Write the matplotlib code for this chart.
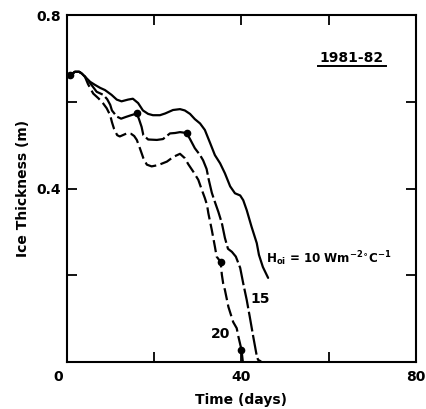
import matplotlib
matplotlib.use("Agg")
import matplotlib.pyplot as plt

plt.rcParams['font.family'] = ['DejaVu Sans']
plt.rcParams['font.weight'] = 'bold'
plt.rcParams['mathtext.fontset'] = 'custom'
plt.rcParams['mathtext.rm'] = 'DejaVu Sans:bold'
plt.rcParams['mathtext.it'] = 'DejaVu Sans:bold'
plt.rcParams['mathtext.default'] = 'rm'

# ---- data (days, ice thickness m) ----
common_t = [0.7, 1.8, 2.8, 3.4, 4.1]
common_h = [0.661, 0.669, 0.669, 0.665, 0.658]

h10_t = [5.3, 6.4, 7.6, 8.7, 10.2, 11.4, 12.5, 14.0, 15.1, 16.3, 17.4, 18.6, 19.7,
         21.3, 22.5, 24.3, 25.9, 27.0, 28.2, 29.3, 30.5, 31.6, 32.8, 33.9, 35.1,
         36.2, 37.4, 38.5, 39.7, 40.4, 41.2, 42.3, 43.5, 44.0, 44.9, 46.1]
h10_h = [0.646, 0.639, 0.632, 0.627, 0.616, 0.605, 0.601, 0.605, 0.607, 0.597,
         0.580, 0.572, 0.569, 0.569, 0.573, 0.581, 0.583, 0.580, 0.572, 0.560,
         0.550, 0.535, 0.505, 0.477, 0.458, 0.435, 0.405, 0.389, 0.384, 0.373,
         0.350, 0.312, 0.274, 0.247, 0.219, 0.194]

h15_t = [5.3, 6.8, 8.3, 9.2, 9.9, 10.3, 11.4, 12.4, 13.5, 14.7, 16.0, 16.5, 17.1,
         17.5, 18.6, 20.6, 22.0, 23.6, 24.8, 25.9, 27.4, 28.2, 29.3, 30.5, 31.2,
         32.0, 32.5, 33.2, 33.9, 34.7, 35.5, 36.2, 36.9, 37.8, 38.7, 39.7, 40.4,
         41.2, 41.9, 42.7, 43.5, 43.8, 44.5]
h15_h = [0.643, 0.623, 0.616, 0.606, 0.593, 0.580, 0.566, 0.561, 0.565, 0.569,
         0.573, 0.560, 0.542, 0.523, 0.513, 0.512, 0.514, 0.527, 0.528, 0.530,
         0.528, 0.514, 0.493, 0.477, 0.465, 0.445, 0.420, 0.390, 0.369, 0.346,
         0.320, 0.286, 0.261, 0.254, 0.243, 0.217, 0.181, 0.143, 0.104, 0.058,
         0.014, 0.005, 0.001]

h20_t = [4.8, 6.0, 7.2, 8.3, 9.1, 9.9, 10.3, 10.8, 11.5, 12.1, 13.7, 14.7, 15.4,
         16.0, 16.7, 17.5, 18.3, 19.4, 20.9, 22.9, 24.4, 25.9, 27.0, 27.8, 29.0,
         30.1, 30.9, 31.6, 32.1, 32.4, 33.2, 33.9, 34.3, 35.2, 35.5, 35.8, 36.2,
         37.0, 38.1, 38.9, 39.3, 40.0, 40.3]
h20_h = [0.641, 0.619, 0.608, 0.596, 0.585, 0.569, 0.553, 0.537, 0.523, 0.520,
         0.527, 0.526, 0.521, 0.512, 0.493, 0.470, 0.455, 0.451, 0.454, 0.462,
         0.473, 0.480, 0.470, 0.456, 0.438, 0.420, 0.397, 0.378, 0.362, 0.343,
         0.304, 0.266, 0.243, 0.231, 0.201, 0.181, 0.166, 0.127, 0.092, 0.078,
         0.058, 0.028, 0.001]

dot_t = [0.7, 16.0, 27.4, 35.2, 40.0]
dot_h = [0.661, 0.573, 0.528, 0.231, 0.028]

xticks = [0, 20, 40, 60, 80]
xticklabels = ['', '', '40', '', '80']
yticks = [0, 0.2, 0.4, 0.6, 0.8]
yticklabels = ['', '', '0.4', '', '0.8']

fig = plt.figure(figsize=(4.26, 4.09), dpi=100)
ax = fig.add_axes([0.1573, 0.1149, 0.8192, 0.8484])

lw = 1.6
ax.plot(common_t + h10_t, common_h + h10_h, color='black', lw=lw,
        solid_capstyle='round', solid_joinstyle='round')
ax.plot(common_t + h15_t, common_h + h15_h, color='black', lw=lw,
        dashes=(9.0, 1.6))
ax.plot(common_t + h20_t, common_h + h20_h, color='black', lw=lw,
        dashes=(5.5, 2.0))
ax.plot(dot_t, dot_h, 'o', color='black', ms=4.5, clip_on=False)

ax.set_xlim(0, 80)
ax.set_ylim(0, 0.8)
ax.set_xticks(xticks)
ax.set_xticklabels(xticklabels)
ax.set_yticks(yticks)
ax.set_yticklabels(yticklabels)
ax.tick_params(direction='in', length=7, width=1.3, top=True, right=True,
               labelsize=10, pad=4)
ax.tick_params(axis='x', pad=6)
for s in ax.spines.values():
    s.set_linewidth(1.5)

ax.text(-0.026, -0.023, '0', transform=ax.transAxes, ha='center', va='top',
        fontsize=10, fontweight='bold')

ax.set_xlabel('Time (days)', fontsize=10, fontweight='bold', labelpad=6)
ax.set_ylabel('Ice Thickness (m)', fontsize=10, fontweight='bold', labelpad=5)

ax.text(65.3, 0.702, '1981-82', ha='center', va='center', fontsize=10,
        fontweight='bold')
ax.plot([0.719, 0.914], [0.853, 0.853], color='black', lw=1.4,
        transform=ax.transAxes)

ax.text(45.6, 0.228, r'H$_{oi}$ = 10 Wm$^{-2}$$^{\circ}$C$^{-1}$',
        ha='left', va='baseline', fontsize=8.6)
ax.text(42.0, 0.136, '15', ha='left', va='baseline', fontsize=10,
        fontweight='bold')
ax.text(33.0, 0.055, '20', ha='left', va='baseline', fontsize=10,
        fontweight='bold')

fig.savefig('out.png', dpi=100)
